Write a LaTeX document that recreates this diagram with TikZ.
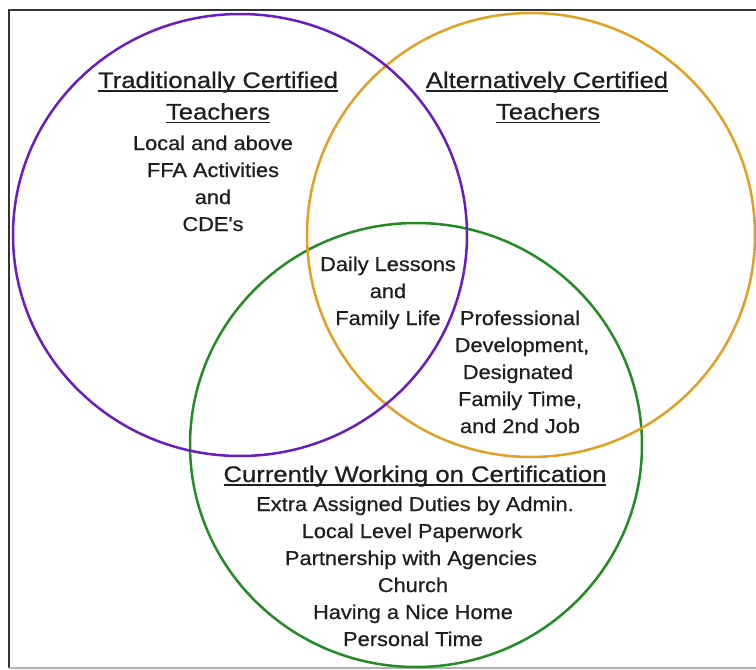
\documentclass[tikz,border=0pt]{standalone}
\usepackage{fontspec}
\setmainfont{Liberation Sans}
\newfontfamily\bodyfont[FakeStretch=1.09,FakeBold=0.6]{Liberation Sans}
\newfontfamily\headfont[FakeStretch=1.14,FakeBold=0.6]{Liberation Sans}
% underline set just below the baseline, crossing descenders
\newcommand\uln[1]{\setbox0\hbox{#1}\rlap{\rule[-3.6pt]{\wd0}{1.5pt}}\box0}
\definecolor{ink}{HTML}{1E1E1E}
\definecolor{trad}{HTML}{6A1CC0}
\definecolor{alt}{HTML}{E1A023}
\definecolor{cert}{HTML}{238C23}
\definecolor{frame}{HTML}{333333}
\begin{document}
\begin{tikzpicture}[x=1pt,y=-1pt,
  ring/.style={line width=2.5pt},
  hd/.style={font=\headfont\fontsize{22.5}{27}\selectfont, text=ink, inner sep=0pt, anchor=base},
  bd/.style={font=\bodyfont\fontsize{20}{27}\selectfont, text=ink, inner sep=0pt, anchor=base}]
\useasboundingbox (0,0) rectangle (756,670);
\fill[white] (0,0) rectangle (756,670);

% frame
\draw[frame, line width=2.4pt] (9,668) -- (9,10) -- (756,10);
\draw[gray!60, line width=1.2pt] (9,668) -- (756,668);

% the three sets
\draw[ring, cert] (416,445) ellipse [x radius=226, y radius=222];
\draw[ring, alt]  (531,235) ellipse [x radius=224, y radius=222];
\draw[ring, trad] (240,235) ellipse [x radius=227, y radius=221];

% traditionally certified
\node[hd] (t1) at (218,88) {\uln{Traditionally Certified}};
\node[hd] (t2) at (218,119.5) {\uln{Teachers}};
\node[bd] (t3) at (213,150) {Local and above};
\node[bd] (t4) at (213,177) {FFA Activities};
\node[bd] (t5) at (213,204) {and};
\node[bd] (t6) at (213,231) {CDE's};

% alternatively certified
\node[hd] (a1) at (547,88) {\uln{Alternatively Certified}};
\node[hd] (a2) at (548,119.5) {\uln{Teachers}};

% shared regions
\node[bd] (s1) at (388,271) {Daily Lessons};
\node[bd] (s2) at (388,298) {and};
\node[bd] (s3) at (388,325) {Family Life};

\node[bd] (p1) at (520,325) {Professional};
\node[bd] (p2) at (522,352) {Development,};
\node[bd] (p3) at (518,379) {Designated};
\node[bd] (p4) at (520,406) {Family Time,};
\node[bd] (p5) at (520,433) {and 2nd Job};

% currently working on certification
\node[hd] (c1) at (415,482) {\uln{Currently Working on Certification}};
\node[bd] (c2) at (415,511) {Extra Assigned Duties by Admin.};
\node[bd] (c3) at (412,538) {Local Level Paperwork};
\node[bd] (c4) at (411,565) {Partnership with Agencies};
\node[bd] (c5) at (413,592) {Church};
\node[bd] (c6) at (413,619) {Having a Nice Home};
\node[bd] (c7) at (413,646) {Personal Time};
\end{tikzpicture}
\end{document}
